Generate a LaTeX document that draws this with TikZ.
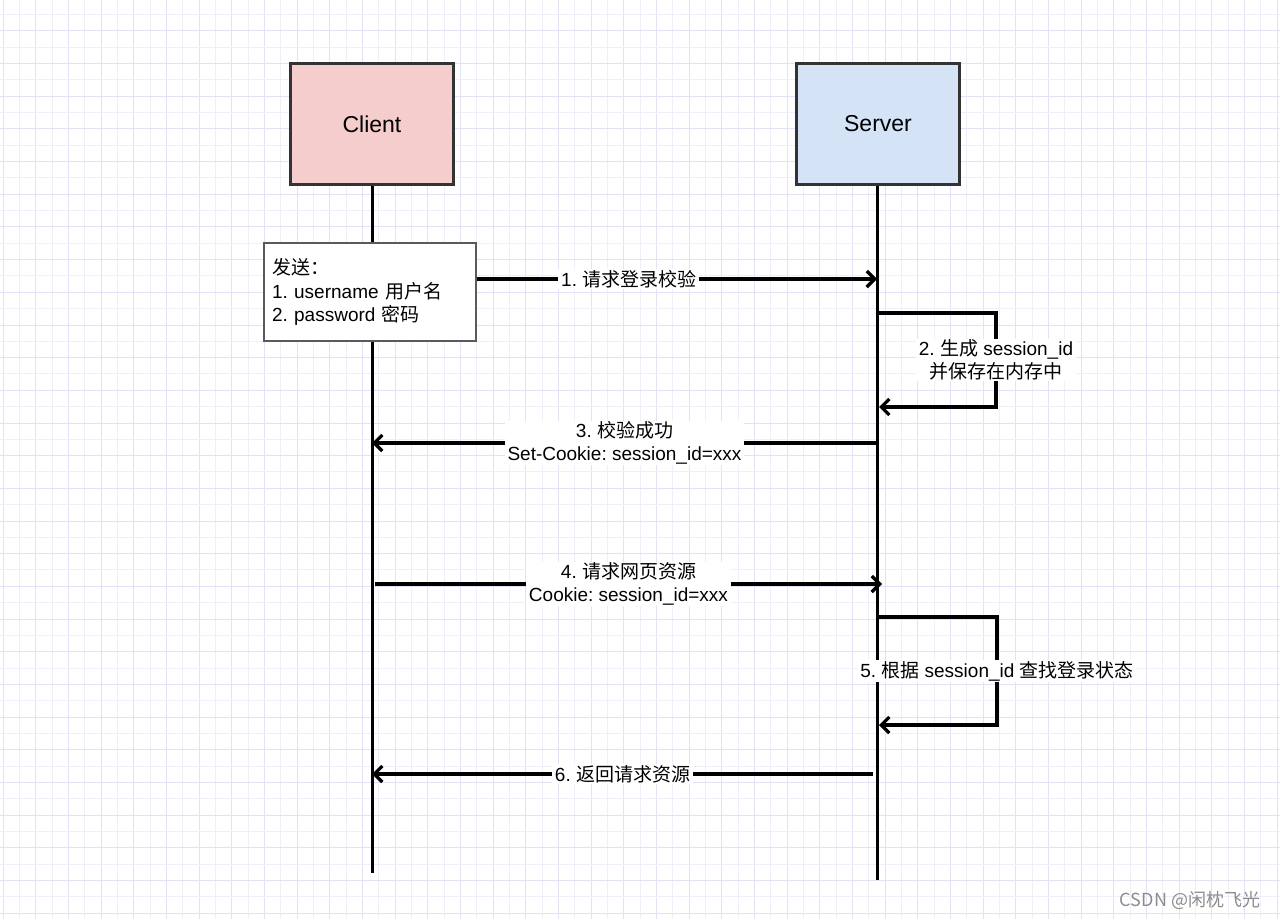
\documentclass[tikz,border=0pt]{standalone}
\usepackage{fontspec}
\setmainfont{Liberation Sans}
\newfontfamily\cjk{Noto Sans CJK SC}
\usepackage{tikz}
\usetikzlibrary{arrows.meta, positioning, calc}
\definecolor{client fill}{HTML}{F5CDCD}
\definecolor{server fill}{HTML}{D4E3F5}
\definecolor{actor border}{HTML}{333333}
\definecolor{note border}{HTML}{5A5A5A}
\definecolor{grid major}{HTML}{E2E2F6}
\definecolor{grid minor}{HTML}{EFEFFA}
\definecolor{mark gray}{HTML}{8C8C8C}
\frenchspacing

\begin{document}
\begin{tikzpicture}[x=1pt, y=-1pt, >={Straight Barb[length=8pt,width=16pt]},
  actor/.style={draw=actor border, line width=3pt, minimum width=163pt, minimum height=121pt, font=\fontsize{23}{28}\selectfont},
  note/.style={draw=note border, fill=white, line width=1.3pt, minimum width=212pt, minimum height=98pt, text width=196pt, inner xsep=8pt, align=left, font=\fontsize{19}{23.5}\selectfont},
  lifeline/.style={line width=3pt},
  msg/.style={->, line width=3.2pt},
  msg label/.style={fill=white, inner xsep=3pt, inner ysep=1pt, align=center, font=\fontsize{19}{22.5}\selectfont}]
\fill[white] (0,0) rectangle (1280,919);
\useasboundingbox (0,0) rectangle (1280,919);

\foreach \i in {0,...,39} {
  \draw[grid minor, line width=1pt] ({19.33+32.67*\i},0) -- ({19.33+32.67*\i},919);
  \draw[grid major, line width=1pt] ({3+32.67*\i},0) -- ({3+32.67*\i},919);
}
\foreach \j in {0,...,28} {
  \draw[grid minor, line width=1pt] (0,{14.6+32.67*\j}) -- (1280,{14.6+32.67*\j});
  \draw[grid major, line width=1pt] (0,{-1.7+32.67*\j}) -- (1280,{-1.7+32.67*\j});
}

\node[actor, fill=client fill] (client) at (372,124) {Client};
\node[actor, fill=server fill] (server) at (878,124) {Server};

\coordinate (client bottom) at (372,873);
\coordinate (server bottom) at (877,880);
\draw[lifeline] (client.south -| client bottom) -- (client bottom);
\draw[lifeline] (server.south -| server bottom) -- (server bottom);

\node[note] (send) at (370,292) {{\cjk 发送：}\\1. username {\cjk 用户名}\\2. password {\cjk 密码}};

\coordinate (login srv) at (877,279);
\draw[msg] (send.east |- login srv) -- node[msg label, pos=0.38] {1. {\cjk 请求登录校验}} (login srv);

\coordinate (gen start) at (879,313);
\coordinate (gen end) at (879,407);
\draw[msg] (gen start) -- ++(117,0) |- node[msg label, pos=0.25] {2. {\cjk 生成} session\_id\\{\cjk 并保存在内存中}} (gen end);

\coordinate (ok srv) at (877,443);
\coordinate (ok cli) at (372,443);
\draw[msg] (ok srv) -- node[msg label] {3. {\cjk 校验成功}\\Set-Cookie: session\_id=xxx} (ok cli);

\coordinate (page cli) at (375,584);
\coordinate (page srv) at (882,584);
\draw[msg] (page cli) -- node[msg label] {4. {\cjk 请求网页资源}\\Cookie: session\_id=xxx} (page srv);

\coordinate (find start) at (879,617);
\coordinate (find end) at (879,725);
\draw[msg] (find start) -- ++(118,0) |- node[msg label, pos=0.25] {5. {\cjk 根据} session\_id {\cjk 查找登录状态}} (find end);

\coordinate (res srv) at (873,774);
\coordinate (res cli) at (372,774);
\draw[msg] (res srv) -- node[msg label] {6. {\cjk 返回请求资源}} (res cli);

\node[text=mark gray, font=\cjk\fontsize{18}{20}\selectfont] (mark) at (1190,900) {CSDN @闲枕飞光};
\end{tikzpicture}
\end{document}
